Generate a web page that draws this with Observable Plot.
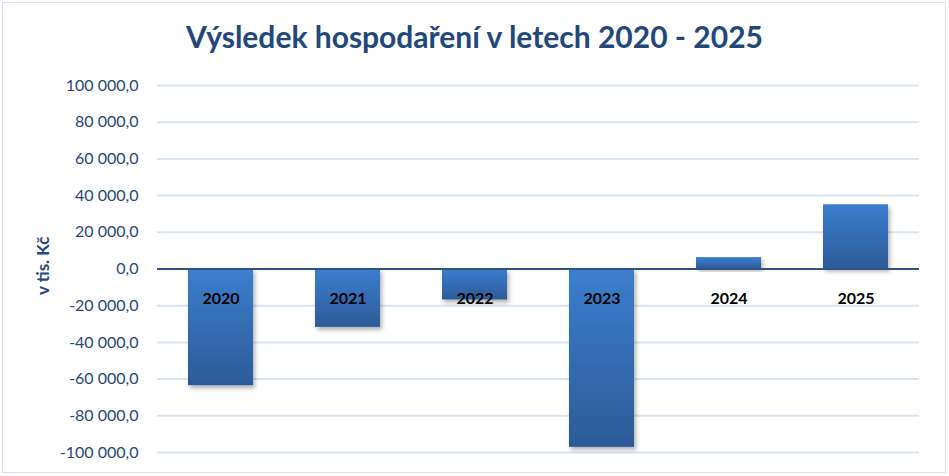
<!DOCTYPE html>
<html><head><meta charset="utf-8">
<script src="https://cdn.jsdelivr.net/npm/d3@7"></script>
<script src="https://cdn.jsdelivr.net/npm/@observablehq/plot@0.6"></script>
<style>
body{margin:0;background:#fff;}
#wrap{position:relative;width:949px;height:476px;overflow:hidden;font-family:Lato,sans-serif;}
#border{position:absolute;left:2px;top:2px;width:942px;height:469px;border:1.5px solid #D5E1F1;box-sizing:content-box;}
#title{position:absolute;left:0;top:18px;width:949px;text-align:center;font:bold 30px Lato,sans-serif;color:#22477B;line-height:36px;}
#wrap svg{position:absolute;left:0;top:0;}
</style></head><body>
<div id="wrap"><div id="border"></div><div id="title">Výsledek hospodaření v letech 2020 - 2025</div></div>
<script>
const years = ["2020", "2021", "2022", "2023", "2024", "2025"];
const values = [-63600, -31800, -16900, -97200, 6200, 35000];
const yTicks = [-100000, -80000, -60000, -40000, -20000, 0, 20000, 40000, 60000, 80000, 100000];
const axisTitle = "v tis. Kč";

const data = years.map((y, i) => ({year: y, value: values[i]}));
const fmt = d3.formatLocale({decimal: ",", thousands: " ", grouping: [3], currency: ["", ""], minus: "-"}).format(",.1f");

const plot = Plot.plot({
  width: 949,
  height: 476,
  marginLeft: 157,
  marginRight: 30,
  marginTop: 85,
  marginBottom: 24,
  style: {fontFamily: "Lato, sans-serif", color: "#24487C", background: "transparent", overflow: "visible"},
  x: {type: "band", domain: years, paddingInner: 0.49, paddingOuter: 0.245, axis: null},
  y: {domain: [-100000, 100000], axis: null},
  marks: [
    Plot.ruleY(yTicks.filter(d => d !== 0), {stroke: "#D9E4F3", strokeWidth: 2}),
    Plot.axisY({ticks: yTicks, tickFormat: fmt, tickSize: 0, tickPadding: 19, fontSize: 16, label: null}),
    Plot.barY(data, {x: "year", y: "value", fill: "url(#barGrad)"}),
    Plot.ruleY([0], {stroke: "#2F5283", strokeWidth: 2}),
    Plot.text(data, {x: "year", y: () => 0, text: "year", dy: 30, fontSize: 16, fontWeight: "bold", fill: "#000", lineAnchor: "middle"}),
    Plot.text([axisTitle], {frameAnchor: "left", dx: -114, dy: 26, rotate: -90, fontSize: 17, fontWeight: "bold", fill: "#24487C", lineAnchor: "middle"})
  ]
});

const svg = d3.select(plot);
const defs = svg.insert("defs", ":first-child");
const g = defs.append("linearGradient").attr("id", "barGrad").attr("x1", 0).attr("y1", 0).attr("x2", 0).attr("y2", 1);
g.append("stop").attr("offset", "0%").attr("stop-color", "#3B7ECF");
g.append("stop").attr("offset", "100%").attr("stop-color", "#2C5B98");
const f = defs.append("filter").attr("id", "shadow").attr("x", "-20%").attr("y", "-20%").attr("width", "150%").attr("height", "150%");
f.append("feDropShadow").attr("dx", 2).attr("dy", 3).attr("stdDeviation", 2).attr("flood-color", "#000").attr("flood-opacity", 0.3);
svg.selectAll("g[aria-label=bar] rect").attr("filter", "url(#shadow)");

document.getElementById("wrap").appendChild(plot);
</script>
</body></html>
